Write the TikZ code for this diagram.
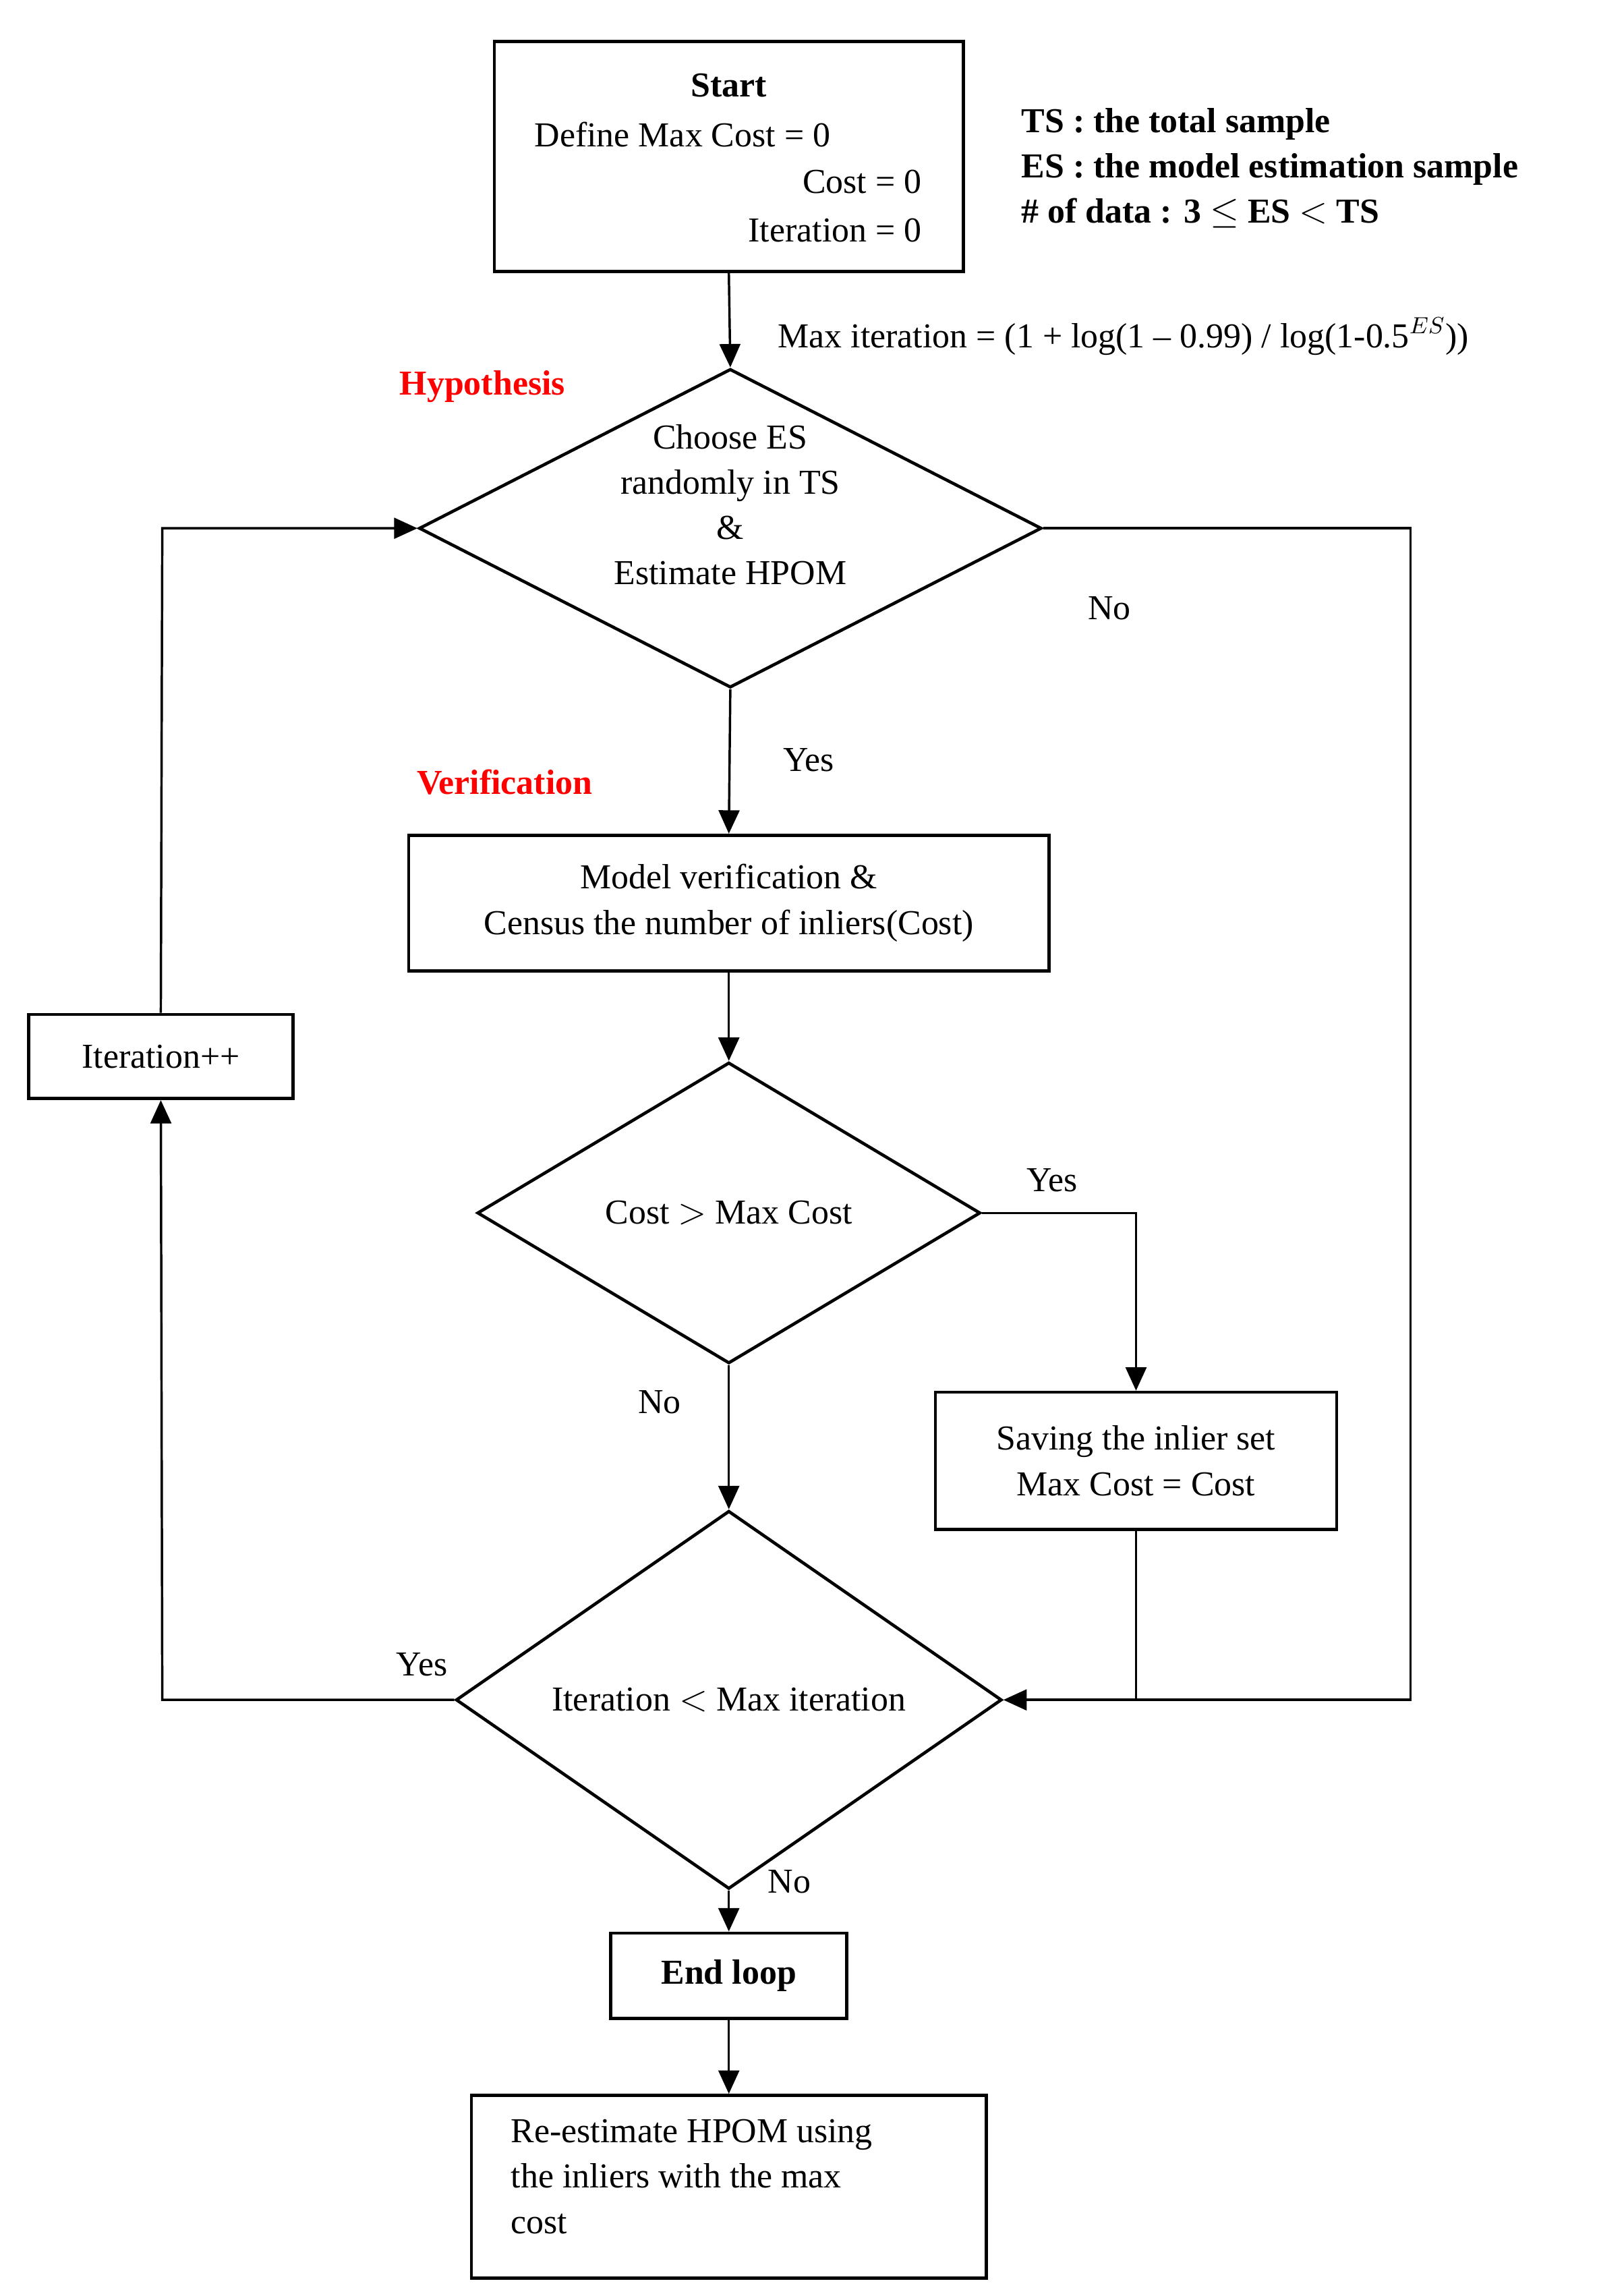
\documentclass[tikz,border=0pt]{standalone}
\usepackage{fontspec}
\setmainfont{Liberation Serif}
\usetikzlibrary{shapes.geometric,arrows.meta}
\begin{document}
\begin{tikzpicture}[x=0.02cm,y=-0.02cm,
  every node/.style={font=\fontsize{13.5}{17.5}\selectfont},
  box/.style={draw,line width=1.2pt,inner sep=0},
  dia/.style={draw,diamond,line width=1.2pt,inner sep=0},
  lbl/.style={inner sep=0},
  red/.style={text=red,font=\fontsize{13.5}{17}\selectfont\bfseries},
  arr/.style={line width=0.9pt,-{Triangle[length=9pt,width=8pt]}},
  ln/.style={line width=0.9pt}]
\useasboundingbox (0,0) rectangle (1082,1556);
\node[box,minimum width=318*0.02cm,minimum height=156*0.02cm] (start) at (494,106) {};
\node[lbl,font=\fontsize{13.5}{17}\selectfont\bfseries] (st) at (494,58) {Start};
\node[lbl,anchor=west] (d1) at (362,91) {Define Max Cost = 0};
\node[lbl,anchor=east] (d2) at (625,123) {Cost = 0};
\node[lbl,anchor=east] (d3) at (625,156) {Iteration = 0};
\node[lbl,anchor=west,align=left,font=\fontsize{13.5}{17.5}\selectfont\bfseries] (leg) at (692,114) {TS : the total sample\\ES : the model estimation sample\\\# of data : 3 $\leq$ ES $<$ TS};
\node[lbl,anchor=west] (mi) at (527,228) {Max iteration = (1 + log(1 -- 0.99) / log(1-0.5$^{ES}$))};
\node[lbl,red] (hyp) at (327,262) {Hypothesis};
\node[dia,minimum width=422*0.02cm,minimum height=216*0.02cm] (h) at (495,358) {};
\node[lbl,align=center] (ht) at (495,342) {Choose ES\\randomly in TS\\\&\\Estimate HPOM};
\node[lbl] (no1) at (752,412) {No};
\node[lbl] (yes1) at (548,515) {Yes};
\node[lbl,red] (ver) at (342,530) {Verification};
\node[box,minimum width=434*0.02cm,minimum height=92*0.02cm,align=center] (mv) at (494,612) {Model verification \&\\Census the number of inliers(Cost)};
\node[dia,minimum width=341*0.02cm,minimum height=204*0.02cm] (c) at (494,822) {Cost $>$ Max Cost};
\node[lbl] (yes2) at (713,800) {Yes};
\node[box,minimum width=272*0.02cm,minimum height=93*0.02cm,align=center] (sv) at (770,990) {Saving the inlier set\\Max Cost = Cost};
\node[lbl] (no2) at (447,950) {No};
\node[dia,minimum width=370*0.02cm,minimum height=220*0.02cm] (it) at (494,1152) {Iteration $<$ Max iteration};
\node[lbl] (yes3) at (286,1128) {Yes};
\node[lbl] (no3) at (535,1275) {No};
\node[box,minimum width=160*0.02cm,minimum height=58*0.02cm,font=\fontsize{13.5}{17}\selectfont\bfseries] (end) at (494,1339) {End loop};
\node[box,minimum width=349*0.02cm,minimum height=124*0.02cm] (re) at (494,1482) {};
\node[lbl,anchor=north west,align=left] (ret) at (346,1436) {Re-estimate HPOM using\\the inliers with the max\\cost};
\node[box,minimum width=179*0.02cm,minimum height=57*0.02cm] (ip) at (109,716) {Iteration++};
\coordinate (r1) at (956,358);
\coordinate (r2) at (956,1152);
\coordinate (s1) at (770,822);
\coordinate (s2) at (770,1152);
\coordinate (l1) at (110,1152);
\coordinate (l2) at (110,358);
\draw[arr] (start.south) -- (h.north);
\draw[arr] (h.south) -- (mv.north);
\draw[arr] (mv.south) -- (c.north);
\draw[arr] (c.east) -- (s1) -- (sv.north);
\draw[arr] (c.south) -- (it.north);
\draw[ln] (sv.south) -- (s2);
\draw[arr] (h.east) -- (r1) -- (r2) -- (it.east);
\draw[arr] (it.south) -- (end.north);
\draw[arr] (end.south) -- (re.north);
\draw[arr] (it.west) -- (l1) -- (ip.south);
\draw[arr] (ip.north) -- (l2) -- (h.west);
\end{tikzpicture}
\end{document}
